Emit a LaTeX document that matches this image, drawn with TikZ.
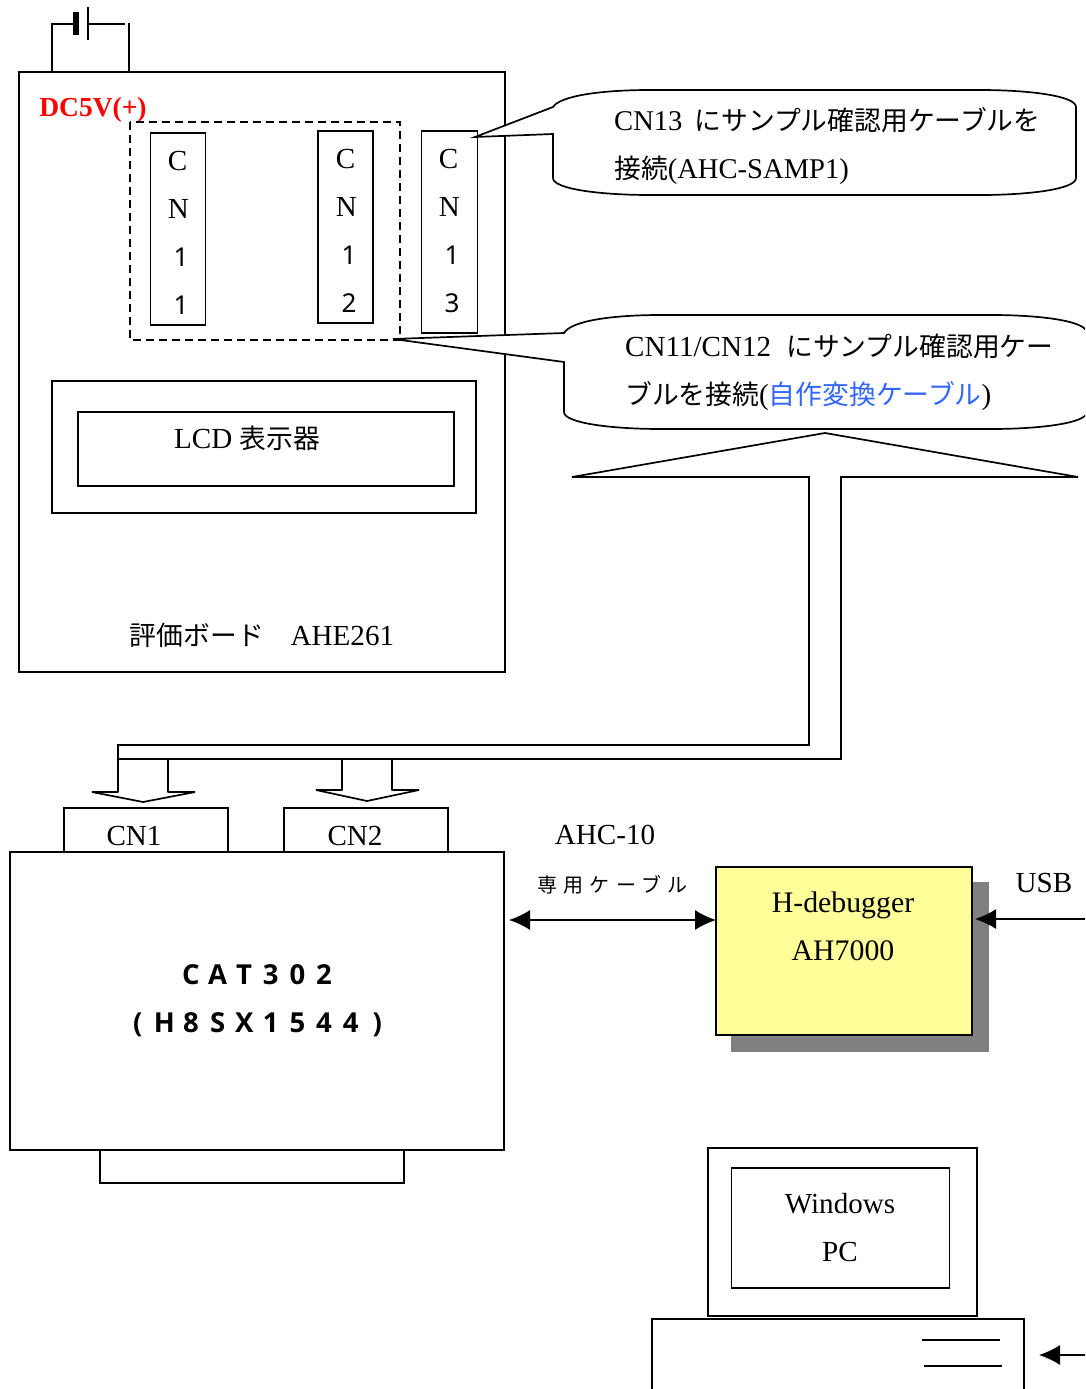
\documentclass[tikz,border=0pt]{standalone}
\usepackage{fontspec}
\setmainfont{Liberation Serif}
\newfontfamily\jpfont{Noto Sans CJK JP}
\newfontfamily\jpwide[LetterSpace=32]{Noto Sans CJK JP}
\newfontfamily\gothfont{Noto Sans}
\newfontfamily\gothbold{Open Sans}
\usetikzlibrary{arrows.meta}
\definecolor{shadowGrey}{HTML}{808080}
\definecolor{debugYellow}{HTML}{FFFF99}
\definecolor{cableBlue}{HTML}{3366FF}
\newcommand{\jptext}[1]{{\jpfont\fontsize{26.8}{48}\selectfont #1}}
\newcommand{\cndigit}[1]{\makebox[26.5pt]{\gothfont\fontsize{26}{48}\selectfont #1}}
\newcommand{\catcell}[1]{\makebox[26.6pt]{#1}}
\tikzset{
    frame/.style 2 args={draw, line width=1.7pt, inner sep=0pt, minimum width=#1, minimum height=#2},
    txt/.style={inner sep=0pt, font=\fontsize{29.1}{48}\selectfont},
    wire/.style={line width=1.7pt},
    bigtip/.style={line width=1.3pt, {Latex[length=21pt,width=20pt]}-}
}

\begin{document}
\begin{tikzpicture}[x=1pt, y=-1pt]

    \useasboundingbox (0,0) rectangle (1085,1389);
    \clip (0,0) rectangle (1085,1389);

    % battery on top of the board
    \draw[wire] (52,72) -- (52,24) -- (74,24);
    \draw[line width=5.5pt] (76,12) -- (76,35);
    \draw[wire] (88,7) -- (88,40);
    \draw[wire] (88,24) -- (125,24);
    \draw[wire] (129,23) -- (129,72);

    % evaluation board
    \node[frame={486pt}{600pt}] (board) at (262,372) {};
    \node[txt, text=red, font=\fontsize{27.5}{30}\bfseries] (power) at (93,110) {DC5V(+)};
    \draw[wire, dash pattern=on 8pt off 5pt] (130,122) rectangle (400,340);

    \node[frame={55pt}{192pt}] (cnA) at (178,229) {};
    \node[frame={55pt}{192pt}] (cnB) at (345.5,227) {};
    \node[frame={56pt}{202pt}] (cnC) at (449.5,232) {};
    \node[txt, align=left] (cnAtext) at (181,233) {C\\N\\\cndigit{1}\\\cndigit{1}};
    \node[txt, align=left] (cnBtext) at (349,231) {C\\N\\\cndigit{1}\\\cndigit{2}};
    \node[txt, align=left] (cnCtext) at (452,231) {C\\N\\\cndigit{1}\\\cndigit{3}};

    \node[frame={424pt}{132pt}] (lcdouter) at (264,447) {};
    \node[frame={376pt}{74pt}] (lcdinner) at (266,449) {};
    \node[txt] (lcdtext) at (247,438) {LCD \jptext{表示器}};
    \node[txt] (boardtext) at (262,635) {\jptext{評価ボード　}AHE261};

    % the two balloons
    \draw[wire, fill=white] (553,107) .. controls (560,96) and (600,90) .. (650,90) -- (980,90)
        .. controls (1030,90) and (1076,96) .. (1076,107) -- (1076,178)
        .. controls (1076,189) and (1030,195) .. (980,195) -- (650,195)
        .. controls (600,195) and (553,189) .. (553,178) -- (553,134) -- (475,137) -- cycle;
    \node[txt, anchor=west, align=left, font=\fontsize{28.6}{48}\selectfont] (balloonA) at (614,146) {CN13\hspace{12pt}\jptext{にサンプル確認用ケーブルを}\\\jptext{接続}(AHC-SAMP1)};

    \draw[wire, fill=white] (564,333) .. controls (571,321) and (611,315) .. (661,315) -- (991,315)
        .. controls (1041,315) and (1087,321) .. (1087,333) -- (1087,412)
        .. controls (1087,423) and (1041,429) .. (991,429) -- (661,429)
        .. controls (611,429) and (564,423) .. (564,412) -- (564,362) -- (393,339) -- cycle;
    \node[txt, anchor=west, align=left] (balloonB) at (625,372) {CN11/CN12\hspace{15pt}\jptext{にサンプル確認用ケー}\\\jptext{ブルを接続}(\jptext{\textcolor{cableBlue}{自作変換ケーブル}})};

    % wide arrow of the cable and its two heads
    \draw[wire] (809,477) -- (572,477) -- (825,433) -- (1078,477) -- (841,477) -- (841,759)
        -- (118,759) -- (118,745) -- (809,745) -- cycle;
    \draw[wire, line join=bevel] (118,759) -- (118,792) -- (92,792) -- (143,802) -- (195,792) -- (168,792) -- (168,759);
    \draw[wire, line join=bevel] (342,759) -- (342,790) -- (316,790) -- (367,801) -- (419,790) -- (392,790) -- (392,759);

    % target board
    \node[frame={164pt}{44pt}] (cnone) at (146,830) {};
    \node[frame={164pt}{44pt}] (cntwo) at (366,830) {};
    \node[txt] (cnonetext) at (134,836) {CN1};
    \node[txt] (cntwotext) at (355,836) {CN2};
    \node[frame={494pt}{298pt}] (target) at (257,1001) {};
    \node[frame={304pt}{33pt}] (slot) at (252,1166.5) {};
    \node[txt, align=center, font=\fontsize{27.5}{48}\selectfont\gothbold\bfseries] (targettext) at (257.5,1001)
        {\catcell{C}\catcell{A}\catcell{T}\catcell{3}\catcell{0}\catcell{2}\\\catcell{(}\catcell{H}\catcell{8}\catcell{S}\catcell{X}\catcell{1}\catcell{5}\catcell{4}\catcell{4}\catcell{)}};

    % debugger with its shadow
    \fill[shadowGrey] (731,882) rectangle (989,1052);
    \node[frame={256pt}{168pt}, fill=debugYellow] (debugger) at (844,951) {};
    \node[txt, align=center, font=\fontsize{29.8}{48}\selectfont] (debuggertext) at (843,926.5) {H-debugger\\AH7000};

    \node[txt] (cablename) at (605,835) {AHC-10};
    \node[txt, font=\fontsize{20}{24}\jpwide] (cablekind) at (612.5,885) {専用ケーブル};
    \node[txt] (usbname) at (1044,883) {USB};

    \coordinate (targetport) at (509,920);
    \coordinate (debuggerleft) at (716,920);
    \coordinate (debuggerright) at (975,919);
    \coordinate (usbend) at (1090,919);
    \draw[bigtip, {Latex[length=21pt,width=20pt]}-{Latex[length=21pt,width=20pt]}] (targetport) -- (debuggerleft);
    \draw[bigtip] (debuggerright) -- (usbend);

    % personal computer
    \node[frame={269pt}{168pt}] (monitor) at (842.5,1232) {};
    \node[frame={218pt}{120pt}] (screen) at (840.5,1228) {};
    \node[txt, align=center] (screentext) at (840,1227.5) {Windows\\PC};
    \node[frame={372pt}{120pt}] (pcbase) at (838,1379) {};
    \draw[wire] (922,1340) -- (1000,1340);
    \draw[wire] (924,1366) -- (1002,1366);
    \coordinate (pcport) at (1039,1355);
    \coordinate (pcend) at (1090,1355);
    \draw[bigtip] (pcport) -- (pcend);

\end{tikzpicture}
\end{document}
